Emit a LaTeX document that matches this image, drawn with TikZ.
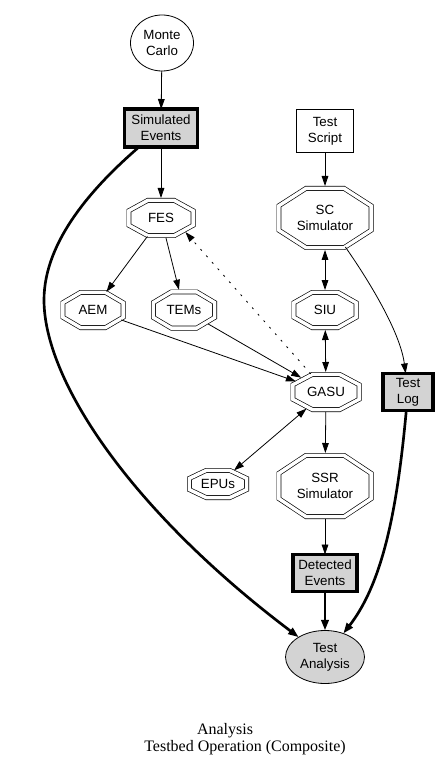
\documentclass[tikz,border=0pt]{standalone}
\usepackage{fontspec}
\setmainfont{Liberation Serif}
\setsansfont{Liberation Sans}
\usetikzlibrary{calc,arrows.meta,shapes.geometric,positioning}
\definecolor{boxgray}{RGB}{211,211,211}
\tikzset{
  lbl/.style={font=\sffamily\fontsize{10}{12}\selectfont, align=center, inner sep=0pt, outer sep=0pt},
  octbox/.style 2 args={lbl, ellipse, minimum width={#1*0.75pt}, minimum height={#2*0.75pt}},
  ellbox/.style 2 args={lbl, ellipse, draw, line width=0.6pt, minimum width={#1*0.75pt}, minimum height={#2*0.75pt}},
  plainbox/.style 2 args={lbl, rectangle, draw, line width=0.6pt, minimum width={#1*0.75pt}, minimum height={#2*0.75pt}},
  heavybox/.style 2 args={lbl, rectangle, draw, fill=boxgray, line width=2.4pt, minimum width={#1*0.75pt}, minimum height={#2*0.75pt}},
  dbloct/.style={line width=0.5pt, double, double distance=2.6pt},
  edge/.style={-{Triangle[length=7.5pt,width=5pt]}, line width=0.6pt},
  biedge/.style={{Triangle[length=7.5pt,width=5pt]}-{Triangle[length=7.5pt,width=5pt]}, line width=0.6pt},
  heavy/.style={-{Triangle[length=8pt,width=5.5pt]}, line width=2pt},
  dotedge/.style={edge, dash pattern=on 1.5pt off 5pt},
  caption/.style={font=\rmfamily\fontsize{12}{14}\selectfont, inner sep=0pt}
}

\begin{document}
\begin{tikzpicture}[x=0.75pt,y=-0.75pt]
  \useasboundingbox (0,0) rectangle (448,773);

  \node[ellbox={63}{56}] (mc) at (162,43) {Monte\\Carlo};
  \node[heavybox={73}{38}] (simev) at (161,128) {Simulated\\Events};
  \node[octbox={69}{40}] (fes) at (161,218) {FES};
  \node[octbox={65}{40}] (aem) at (93,310) {AEM};
  \node[octbox={66}{41}] (tems) at (184,310) {TEMs};

  \node[plainbox={57}{43}] (tscript) at (325,131) {Test\\Script};
  \node[octbox={97}{64}] (scsim) at (325,218) {SC\\Simulator};
  \node[octbox={67}{40}] (siu) at (325,310) {SIU};
  \node[octbox={71}{40}] (gasu) at (326,392) {GASU};
  \node[heavybox={50}{37}] (tlog) at (408,392) {Test\\Log};

  \node[octbox={62}{32}] (epus) at (218,484) {EPUs};
  \node[octbox={97}{66}] (ssrsim) at (325,486) {SSR\\Simulator};
  \node[heavybox={64}{37}] (detev) at (325,573) {Detected\\Events};
  \node[ellbox={79}{53}, fill=boxgray] (tanal) at (325,657) {Test\\Analysis};

  \foreach \o in {fes,aem,tems,scsim,siu,gasu,epus,ssrsim}
    \draw[dbloct] let \p1=(\o.center), \p2=($(\o.east)-(\o.center)-(1.8pt,0pt)$),
      \p3=($(\o.north)-(\o.center)-(0pt,1.8pt)$) in
      (\x1+\x2, {\y1+0.414*\y3}) -- ({\x1+0.414*\x2}, \y1+\y3) -- ({\x1-0.414*\x2}, \y1+\y3)
      -- (\x1-\x2, {\y1+0.414*\y3}) -- (\x1-\x2, {\y1-0.414*\y3}) -- ({\x1-0.414*\x2}, \y1-\y3)
      -- ({\x1+0.414*\x2}, \y1-\y3) -- (\x1+\x2, {\y1-0.414*\y3}) -- cycle;

  \draw[edge] (mc) -- (simev);
  \draw[edge] (simev) -- (fes);
  \draw[edge] (fes) -- (aem);
  \draw[edge] (fes) -- (tems);
  \draw[edge] (aem) -- (gasu);
  \draw[edge] (tems) -- (gasu);
  \draw[dotedge] (gasu.130) -- (fes.-30);

  \draw[edge] (tscript) -- (scsim);
  \draw[biedge] (scsim) -- (siu);
  \draw[biedge] (siu) -- (gasu);
  \draw[edge] (scsim) .. controls (365,275) and (400,330) .. (tlog);
  \draw[biedge] (gasu) -- (epus);
  \draw[edge] (gasu) -- (ssrsim);
  \draw[edge] (ssrsim) -- (detev);

  \draw[heavy] (simev) .. controls (95,185) and (44,240) .. (44,300)
    .. controls (44,380) and (130,510) .. (tanal);
  \draw[heavy] (detev) -- (tanal);
  \draw[heavy] (tlog) .. controls (398,500) and (385,580) .. (tanal);

  \node[caption] (capa) at (225,731) {Analysis};
  \node[caption] (capb) at (245,748) {Testbed Operation (Composite)};
\end{tikzpicture}
\end{document}
